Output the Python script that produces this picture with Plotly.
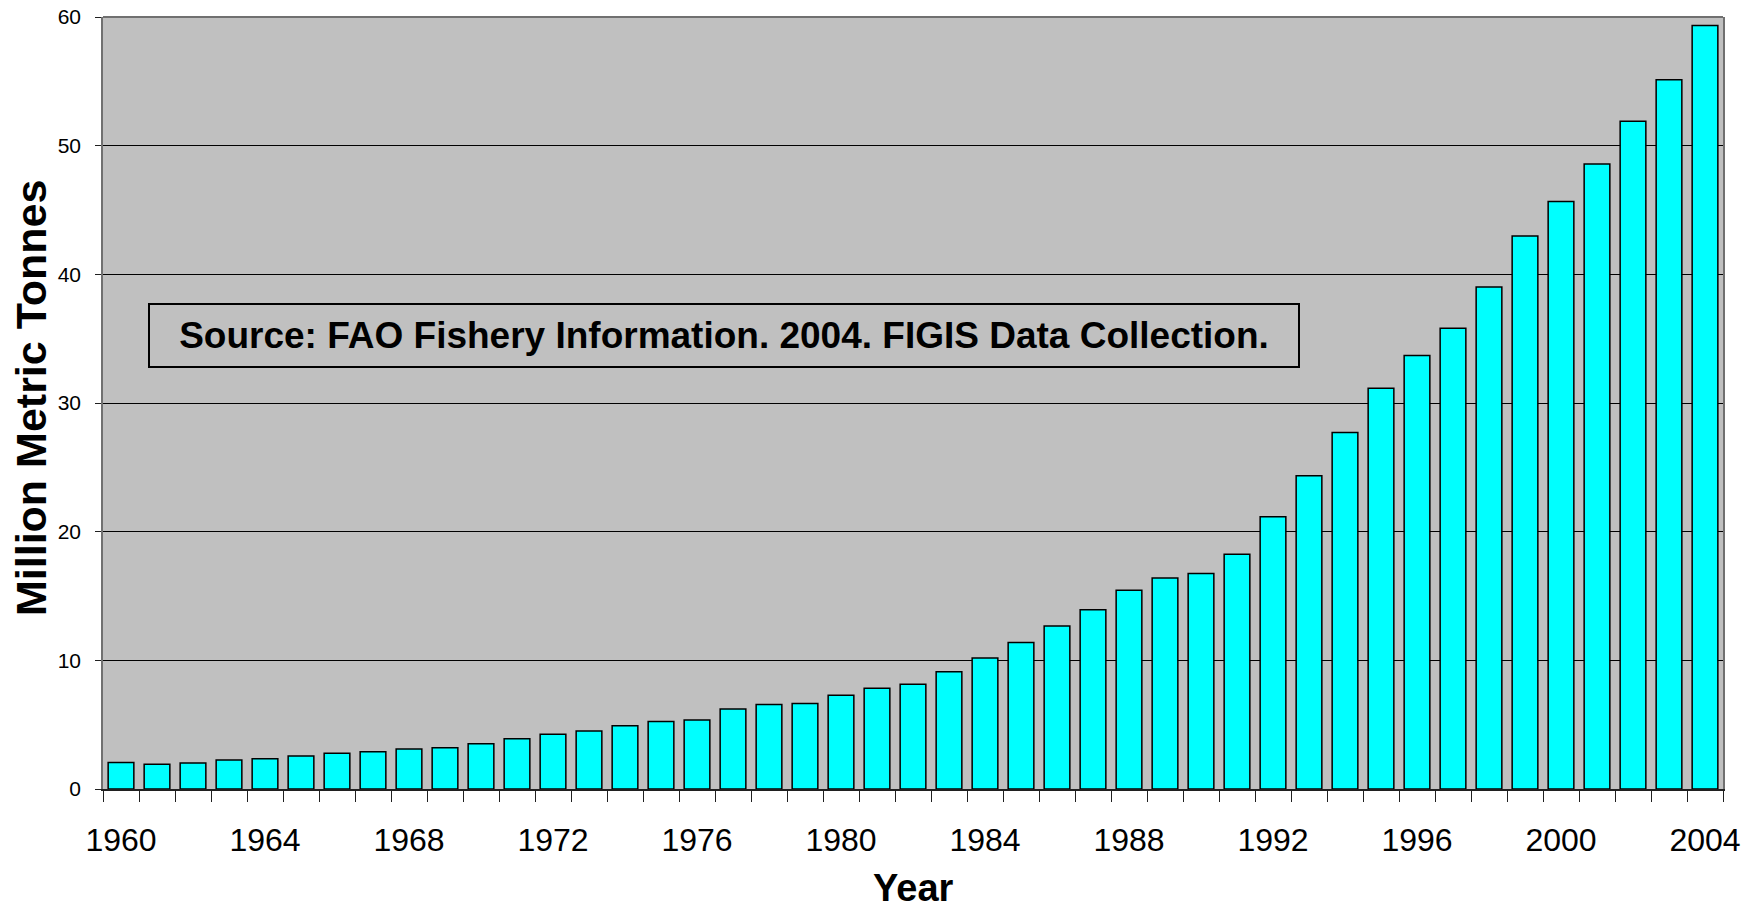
import plotly.graph_objects as go

years = list(range(1960, 2005))
production = [2.05, 1.92, 2.02, 2.25, 2.36, 2.57, 2.78, 2.90, 3.11, 3.21,
              3.52, 3.90, 4.25, 4.51, 4.92, 5.24, 5.37, 6.22, 6.56, 6.64,
              7.28, 7.83, 8.14, 9.12, 10.19, 11.38, 12.67, 13.94, 15.45, 16.40,
              16.75, 18.25, 21.15, 24.35, 27.70, 31.15, 33.70, 35.80, 39.01, 42.98,
              45.67, 48.58, 51.90, 55.13, 59.33]
x_tick_years = years[::4]
y_ticks = [0, 10, 20, 30, 40, 50, 60]
source_text = "Source: FAO Fishery Information. 2004. FIGIS Data Collection."
x_title = "Year"
y_title = "Million Metric Tonnes"

FONT = "Liberation Sans, Arial, sans-serif"

# plot-area geometry in pixels (for placing the titles in paper coordinates)
L, R, T, B = 103, 36, 17, 124
W, H = 1759, 913
PW, PH = W - L - R, H - T - B

def px_to_paper(px, py):
    return (px - L) / PW, (H - B - py) / PH

fig = go.Figure()
fig.add_trace(go.Bar(
    x=years, y=production,
    marker=dict(color="#00FFFF", line=dict(color="black", width=1.5)),
    hoverinfo="x+y",
))

fig.update_layout(
    width=W, height=H,
    margin=dict(l=L, r=R, t=T, b=B, autoexpand=False),
    paper_bgcolor="white",
    plot_bgcolor="#C0C0C0",
    bargap=0.286,
    showlegend=False,
    font=dict(family=FONT, color="black"),
)

fig.update_xaxes(
    range=[1959.5, 2004.5],
    tickmode="array", tickvals=x_tick_years,
    ticktext=[str(v) for v in x_tick_years],
    ticks="", ticklabelstandoff=22,
    tickfont=dict(size=32, family=FONT, color="black"),
    minor=dict(ticks="outside", ticklen=11, tickcolor="#202020", tickwidth=1,
               tickmode="linear", tick0=1959.5, dtick=1, showgrid=False),
    showgrid=False, zeroline=False,
    showline=True, linecolor="#202020", linewidth=1.5, mirror=False,
    automargin=False,
)

fig.update_yaxes(
    range=[0, 60],
    tickmode="array", tickvals=y_ticks,
    ticks="outside", ticklen=6, tickcolor="#202020", ticklabelstandoff=10,
    tickfont=dict(size=21, family=FONT, color="black"),
    showgrid=True, gridcolor="black", gridwidth=1,
    zeroline=False,
    showline=True, linecolor="#707070", linewidth=1.5, mirror=True,
    automargin=False,
)

# top border of plot frame
fig.add_shape(type="line", xref="paper", yref="paper", x0=0, x1=1, y0=1, y1=1,
              line=dict(color="#707070", width=2))

# axis titles
yx, yy = px_to_paper(31, 398)
fig.add_annotation(xref="paper", yref="paper", x=yx, y=yy,
                   xanchor="center", yanchor="middle", textangle=-90,
                   text="<b>" + y_title + "</b>", showarrow=False,
                   font=dict(size=43, family=FONT, color="black"))
xx, xy = px_to_paper(913, 888)
fig.add_annotation(xref="paper", yref="paper", x=xx, y=xy,
                   xanchor="center", yanchor="middle",
                   text="<b>" + x_title + "</b>", showarrow=False,
                   font=dict(size=38, family=FONT, color="black"))

sx, sy = px_to_paper(724, 335.5)
fig.add_annotation(
    xref="paper", yref="paper", x=sx, y=sy,
    xanchor="center", yanchor="middle",
    text="<b>" + source_text + "</b>",
    showarrow=False,
    font=dict(size=37, family=FONT, color="black"),
    bordercolor="black", borderwidth=2, borderpad=2,
    width=1144, height=57, align="center",
)

fig.write_html("out.html", config={"displayModeBar": False},
               post_script="document.body.style.margin='0';")
